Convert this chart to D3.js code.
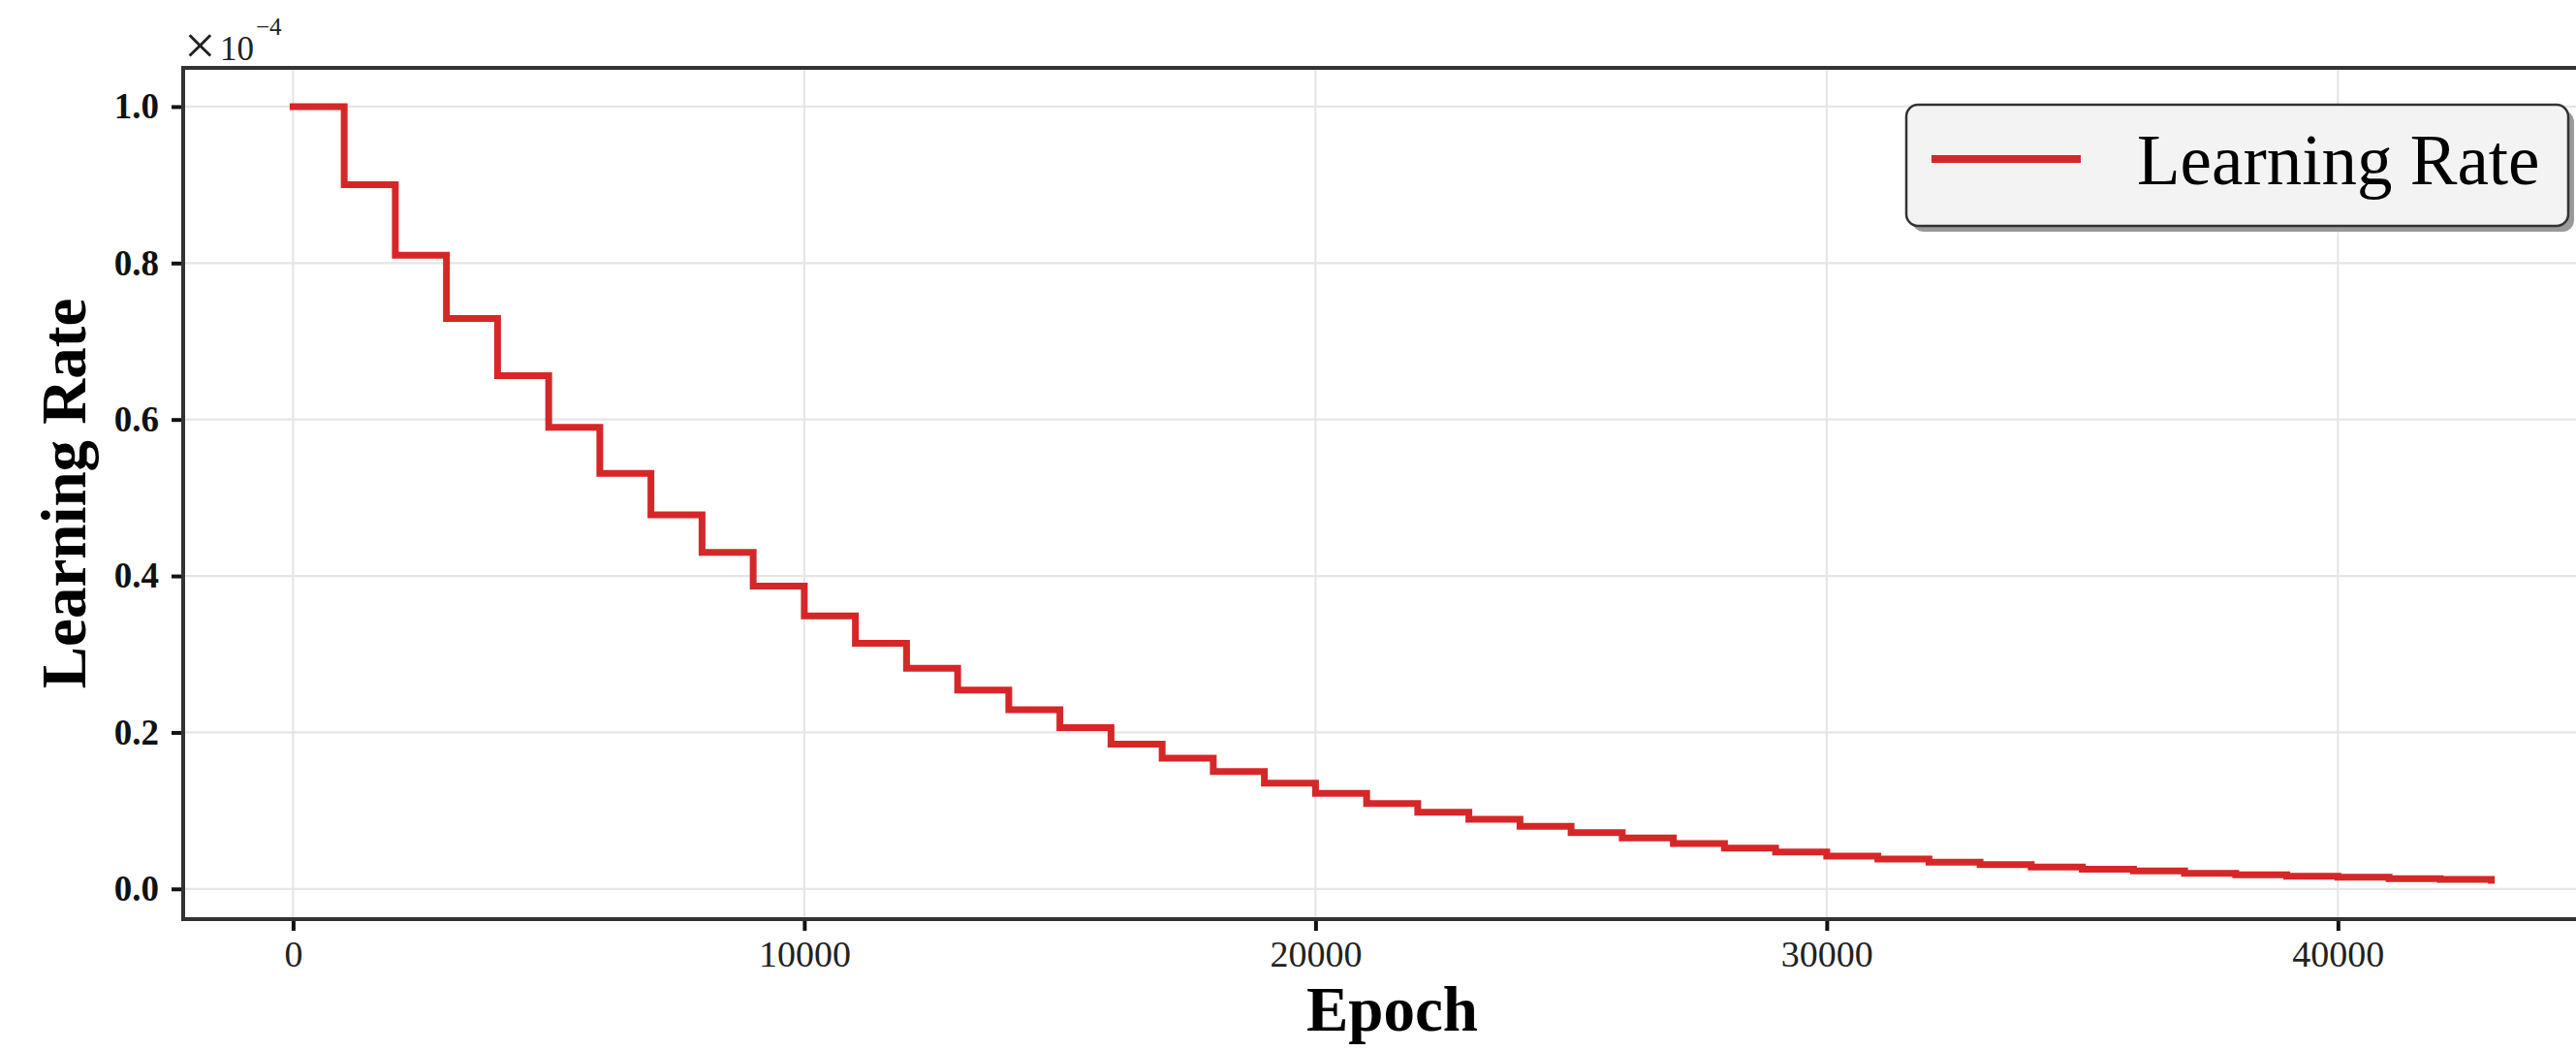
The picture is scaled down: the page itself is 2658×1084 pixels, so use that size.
<!DOCTYPE html>
<html>
<head>
<meta charset="utf-8">
<script src="https://cdn.jsdelivr.net/npm/d3@7"></script>
<style>
  html, body { margin: 0; padding: 0; background: #fff; overflow: hidden; }
  svg { display: block; }
</style>
</head>
<body>
<svg id="chart" width="2658" height="1084"></svg>
<script>
// ---- data ----
const epochs = [0, 1000, 2000, 3000, 4000, 5000, 6000, 7000, 8000, 9000,
  10000, 11000, 12000, 13000, 14000, 15000, 16000, 17000, 18000, 19000,
  20000, 21000, 22000, 23000, 24000, 25000, 26000, 27000, 28000, 29000,
  30000, 31000, 32000, 33000, 34000, 35000, 36000, 37000, 38000, 39000,
  40000, 41000, 42000, 43000];
const learningRate = [1.000, 0.900, 0.810, 0.729, 0.656, 0.590, 0.531, 0.478, 0.430, 0.387,
  0.349, 0.314, 0.282, 0.254, 0.229, 0.206, 0.185, 0.167, 0.150, 0.135,
  0.122, 0.109, 0.098, 0.089, 0.080, 0.072, 0.065, 0.058, 0.052, 0.047,
  0.042, 0.038, 0.034, 0.031, 0.028, 0.025, 0.023, 0.020, 0.018, 0.016,
  0.015, 0.013, 0.012, 0.011];
const xTicks = [0, 10000, 20000, 30000, 40000];
const yTicks = [0.0, 0.2, 0.4, 0.6, 0.8, 1.0];
const seriesName = "Learning Rate";
const xLabel = "Epoch";
const yLabel = "Learning Rate";

// ---- layout ----
const L = 189, R = 2684, T = 70, B = 948;
const serif = "'Liberation Serif', 'Times New Roman', serif";
const red = "#d62728";

const svg = d3.select("#chart");
const x = d3.scaleLinear().domain([-2150, 45150]).range([L, R]);
const y = d3.scaleLinear().domain([-0.0387, 1.0495]).range([B, T]);

// grid
const grid = svg.append("g");
grid.selectAll("line.gx").data(xTicks).join("line")
  .attr("x1", d => x(d)).attr("x2", d => x(d))
  .attr("y1", T).attr("y2", B)
  .attr("stroke", "#e6e6e6").attr("stroke-width", 2.2);
grid.selectAll("line.gy").data(yTicks).join("line")
  .attr("x1", L).attr("x2", R)
  .attr("y1", d => y(d)).attr("y2", d => y(d))
  .attr("stroke", "#e6e6e6").attr("stroke-width", 2.2);

// line
const line = d3.line()
  .x((d, i) => x(epochs[i]))
  .y(d => y(d))
  .curve(d3.curveStepAfter);
svg.append("path")
  .datum(learningRate)
  .attr("d", line)
  .attr("fill", "none")
  .attr("stroke", red)
  .attr("stroke-width", 7)
  .attr("stroke-linejoin", "miter")
  .attr("stroke-linecap", "square");

// axes
const xAxis = d3.axisBottom(x).tickValues(xTicks).tickFormat(d3.format("d"))
  .tickSize(12).tickPadding(10);
const gx = svg.append("g").attr("transform", `translate(0,${B})`).call(xAxis);
gx.select(".domain").remove();
gx.selectAll(".tick line").attr("stroke", "#111").attr("stroke-width", 4);
gx.selectAll(".tick text")
  .attr("font-family", serif).attr("font-size", 38)
  .attr("fill", "#222");

const yAxis = d3.axisLeft(y).tickValues(yTicks).tickFormat(d3.format(".1f"))
  .tickSize(12).tickPadding(13);
const gy = svg.append("g").attr("transform", `translate(${L},0)`).call(yAxis);
gy.select(".domain").remove();
gy.selectAll(".tick line").attr("stroke", "#111").attr("stroke-width", 4);
gy.selectAll(".tick text")
  .attr("font-family", serif).attr("font-size", 37)
  .attr("font-weight", "bold").attr("fill", "#111");

// spines
svg.append("rect")
  .attr("x", L).attr("y", T).attr("width", R - L).attr("height", B - T)
  .attr("fill", "none").attr("stroke", "#333").attr("stroke-width", 4);

// offset text ×10^-4
const offG = svg.append("g").attr("font-family", serif).attr("fill", "#222");
offG.append("text").attr("x", 190).attr("y", 66).attr("font-size", 58).text("×");
offG.append("text").attr("x", 227).attr("y", 62).attr("font-size", 35).text("10");
offG.append("text").attr("x", 264).attr("y", 36).attr("font-size", 25).text("−4");

// axis labels
svg.append("text")
  .attr("x", (L + R) / 2).attr("y", 1063)
  .attr("text-anchor", "middle")
  .attr("font-family", serif).attr("font-size", 65).attr("font-weight", "bold")
  .attr("fill", "#000").text(xLabel);
svg.append("text")
  .attr("transform", `translate(88,${(T + B) / 2}) rotate(-90)`)
  .attr("text-anchor", "middle")
  .attr("font-family", serif).attr("font-size", 65).attr("font-weight", "bold")
  .attr("fill", "#000").text(yLabel);

// legend
const lg = svg.append("g");
const lx = 1967, ly = 108, lw = 683, lh = 125;
lg.append("rect")
  .attr("x", lx + 6).attr("y", ly + 6).attr("width", lw).attr("height", lh)
  .attr("rx", 12).attr("fill", "#9a9a9a");
lg.append("rect")
  .attr("x", lx).attr("y", ly).attr("width", lw).attr("height", lh)
  .attr("rx", 12).attr("fill", "#f3f3f3").attr("stroke", "#333").attr("stroke-width", 2.5);
lg.append("line")
  .attr("x1", 1993).attr("x2", 2147).attr("y1", 164).attr("y2", 164)
  .attr("stroke", red).attr("stroke-width", 8);
lg.append("text")
  .attr("x", 2205).attr("y", 190)
  .attr("font-family", serif).attr("font-size", 73).attr("fill", "#000")
  .text(seriesName);
</script>
</body>
</html>
